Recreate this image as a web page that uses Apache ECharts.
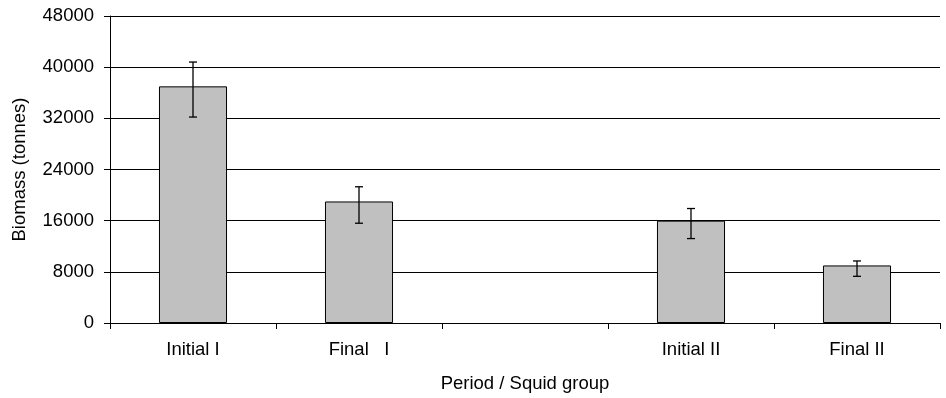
<!DOCTYPE html>
<html>
<head>
<meta charset="utf-8">
<script src="https://cdn.jsdelivr.net/npm/echarts@6/dist/echarts.min.js"></script>
<style>
  html, body { margin: 0; padding: 0; background: #fff; }
  #chart { width: 946px; height: 398px; }
</style>
</head>
<body>
<div id="chart"></div>
<script>
const categories = ['Initial I', 'Final   I', '', 'Initial II', 'Final II'];
const biomass = [37000, 19000, null, 16000, 9000];
const errLow = [32200, 15600, null, 13200, 7300];
const errHigh = [40800, 21300, null, 17900, 9700];
const yTicks = { min: 0, max: 48000, interval: 8000 };

const FONT = 'Liberation Sans, Arial, sans-serif';

const errData = [];
categories.forEach((c, i) => {
  if (errLow[i] != null) errData.push([i, errLow[i], errHigh[i]]);
});

const chart = echarts.init(document.getElementById('chart'));
const option = {
  animation: false,
  backgroundColor: '#fff',
  grid: { left: 110, right: 6, top: 16, bottom: 73 },
  xAxis: {
    type: 'category',
    data: categories,
    name: 'Period / Squid group',
    nameLocation: 'middle',
    nameGap: 51,
    nameTextStyle: { color: '#000', fontSize: 18.5, fontFamily: FONT },
    axisLine: { lineStyle: { color: '#000', width: 1 } },
    axisTick: { show: true, length: 6, lineStyle: { color: '#000' } },
    axisLabel: { color: '#000', fontSize: 18.5, fontFamily: FONT, margin: 17 },
  },
  yAxis: {
    type: 'value',
    min: yTicks.min,
    max: yTicks.max,
    interval: yTicks.interval,
    name: 'Biomass (tonnes)',
    nameLocation: 'middle',
    nameGap: 81,
    nameTextStyle: { color: '#000', fontSize: 18.5, fontFamily: FONT },
    axisLine: { show: true, lineStyle: { color: '#000', width: 1 } },
    axisTick: { show: true, length: 6, lineStyle: { color: '#000' } },
    axisLabel: {
      color: '#000', fontSize: 18.5, fontFamily: FONT, margin: 16,
      formatter: (v) => String(v),
    },
    splitLine: { show: true, lineStyle: { color: '#000', width: 1 } },
  },
  series: [
    {
      type: 'bar',
      data: biomass,
      barWidth: '41%',
      itemStyle: { color: '#c0c0c0', borderColor: '#000', borderWidth: 1 },
    },
    {
      type: 'custom',
      data: errData,
      z: 10,
      renderItem: function (params, api) {
        const x = api.value(0);
        const lo = api.coord([x, api.value(1)]);
        const hi = api.coord([x, api.value(2)]);
        const cap = 4;
        const style = { stroke: '#000', lineWidth: 1.3 };
        return {
          type: 'group',
          children: [
            { type: 'line', shape: { x1: lo[0], y1: lo[1], x2: hi[0], y2: hi[1] }, style: style },
            { type: 'line', shape: { x1: hi[0] - cap, y1: hi[1], x2: hi[0] + cap, y2: hi[1] }, style: style },
            { type: 'line', shape: { x1: lo[0] - cap, y1: lo[1], x2: lo[0] + cap, y2: lo[1] }, style: style },
          ],
        };
      },
    },
  ],
};
chart.setOption(option);
</script>
</body>
</html>
